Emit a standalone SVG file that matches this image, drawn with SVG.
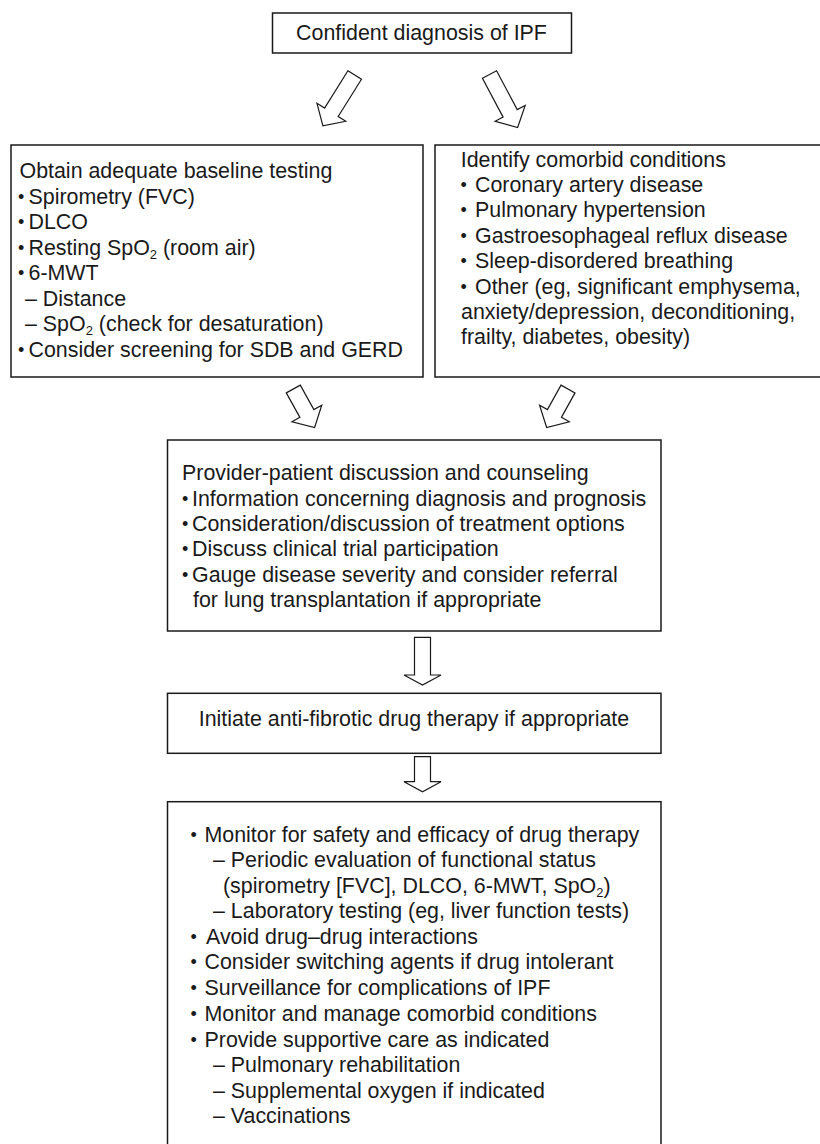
<svg xmlns="http://www.w3.org/2000/svg" width="820" height="1144" viewBox="0 0 820 1144">
<style>
.box{fill:#fff;stroke:#1a1a1a;stroke-width:1.5}
.arr{fill:#fff;stroke:#1a1a1a;stroke-width:1.2;stroke-linejoin:miter}
.t{font-family:"Liberation Sans",Arial,sans-serif;font-size:21.4px;fill:#1a1a1a}
.b{font-family:"Liberation Sans",Arial,sans-serif;font-size:18px;fill:#1a1a1a}
.s{font-size:13px}
</style>
<defs>
<path id="arrRot" d="M -8 0 L 8 0 L 8 44 L 17 44 L 0 60 L -17 44 L -8 44 Z"/>
<path id="arrRotS" d="M -8 0 L 8 0 L 8 28 L 17 28 L 0 44 L -17 28 L -8 28 Z"/>
</defs>
<rect width="820" height="1144" fill="#fff"/>

<g id="connectors">
<use href="#arrRot" class="arr" transform="translate(354.7,75) rotate(32)"/>
<use href="#arrRot" class="arr" transform="translate(489.5,74.5) rotate(-28)"/>
<use href="#arrRotS" class="arr" transform="translate(293.3,389) rotate(-29)"/>
<use href="#arrRotS" class="arr" transform="translate(568,389) rotate(29)"/>
<path class="arr" d="M 414.5 637.3 L 430.5 637.3 L 430.5 675 L 441 675 L 422.5 685 L 404 675 L 414.5 675 Z"/>
<path class="arr" d="M 414.5 756.7 L 430.5 756.7 L 430.5 781.7 L 441 781.7 L 422.5 791.7 L 404 781.7 L 414.5 781.7 Z"/>
</g>

<g id="node-diagnosis">
<rect class="box" x="272.5" y="13" width="299" height="40"/>
<text class="t" x="421.5" y="40" text-anchor="middle">Confident diagnosis of IPF</text>
</g>

<g id="node-baseline">
<rect class="box" x="11" y="145" width="412" height="232"/>
<text class="t" x="19.5" y="178">Obtain adequate baseline testing</text>
<text class="b" x="18" y="202.5">•</text><text class="t" x="28.5" y="203.5">Spirometry (FVC)</text>
<text class="b" x="18" y="228">•</text><text class="t" x="28.5" y="229">DLCO</text>
<text class="b" x="18" y="253.5">•</text><text class="t" x="28.5" y="254.5">Resting SpO<tspan class="s" dy="4">2</tspan><tspan dy="-4"> (room air)</tspan></text>
<text class="b" x="18" y="279">•</text><text class="t" x="28.5" y="280">6-MWT</text>
<text class="t" x="25" y="305.5">– Distance</text>
<text class="t" x="25" y="331">– SpO<tspan class="s" dy="4">2</tspan><tspan dy="-4"> (check for desaturation)</tspan></text>
<text class="b" x="18" y="355.5">•</text><text class="t" x="28.5" y="356.5">Consider screening for SDB and GERD</text>
</g>

<g id="node-comorbid">
<rect class="box" x="435" y="145" width="400" height="232"/>
<text class="t" x="460.7" y="166.7">Identify comorbid conditions</text>
<text class="b" x="460.5" y="191">•</text><text class="t" x="475" y="192">Coronary artery disease</text>
<text class="b" x="460.5" y="216">•</text><text class="t" x="475" y="217">Pulmonary hypertension</text>
<text class="b" x="460.5" y="241.5">•</text><text class="t" x="475" y="242.5">Gastroesophageal reflux disease</text>
<text class="b" x="460.5" y="267">•</text><text class="t" x="475" y="268">Sleep-disordered breathing</text>
<text class="b" x="460.5" y="292.5">•</text><text class="t" x="475" y="293.5">Other (eg, significant emphysema,</text>
<text class="t" x="461" y="318.5">anxiety/depression, deconditioning,</text>
<text class="t" x="461" y="344">frailty, diabetes, obesity)</text>
</g>

<g id="node-discussion">
<rect class="box" x="167.5" y="440" width="493.5" height="191"/>
<text class="t" x="182" y="480">Provider-patient discussion and counseling</text>
<text class="b" x="182" y="504.5">•</text><text class="t" x="192" y="505.5">Information concerning diagnosis and prognosis</text>
<text class="b" x="182" y="530">•</text><text class="t" x="192" y="531">Consideration/discussion of treatment options</text>
<text class="b" x="182" y="555">•</text><text class="t" x="192" y="556">Discuss clinical trial participation</text>
<text class="b" x="182" y="580.7">•</text><text class="t" x="192" y="581.7">Gauge disease severity and consider referral</text>
<text class="t" x="193" y="606.7">for lung transplantation if appropriate</text>
</g>

<g id="node-initiate">
<rect class="box" x="167.5" y="693.3" width="493.5" height="60"/>
<text class="t" x="414" y="726" text-anchor="middle">Initiate anti-fibrotic drug therapy if appropriate</text>
</g>

<g id="node-monitor">
<rect class="box" x="167.5" y="801.7" width="493.5" height="360"/>
<text class="b" x="190.5" y="840.7">•</text><text class="t" x="204.5" y="841.7">Monitor for safety and efficacy of drug therapy</text>
<text class="t" x="213" y="866.7">– Periodic evaluation of functional status</text>
<text class="t" x="223" y="892.7">(spirometry [FVC], DLCO, 6-MWT, SpO<tspan class="s" dy="4">2</tspan><tspan dy="-4">)</tspan></text>
<text class="t" x="213" y="918.3">– Laboratory testing (eg, liver function tests)</text>
<text class="b" x="190.5" y="942.5">•</text><text class="t" x="206" y="943.5">Avoid drug–drug interactions</text>
<text class="b" x="190.5" y="968.3">•</text><text class="t" x="204.5" y="969.3">Consider switching agents if drug intolerant</text>
<text class="b" x="190.5" y="994">•</text><text class="t" x="204.5" y="995">Surveillance for complications of IPF</text>
<text class="b" x="190.5" y="1019.5">•</text><text class="t" x="204.5" y="1020.5">Monitor and manage comorbid conditions</text>
<text class="b" x="190.5" y="1045.5">•</text><text class="t" x="204.5" y="1046.5">Provide supportive care as indicated</text>
<text class="t" x="213" y="1072">– Pulmonary rehabilitation</text>
<text class="t" x="213" y="1097.7">– Supplemental oxygen if indicated</text>
<text class="t" x="213" y="1123">– Vaccinations</text>
</g>
</svg>
